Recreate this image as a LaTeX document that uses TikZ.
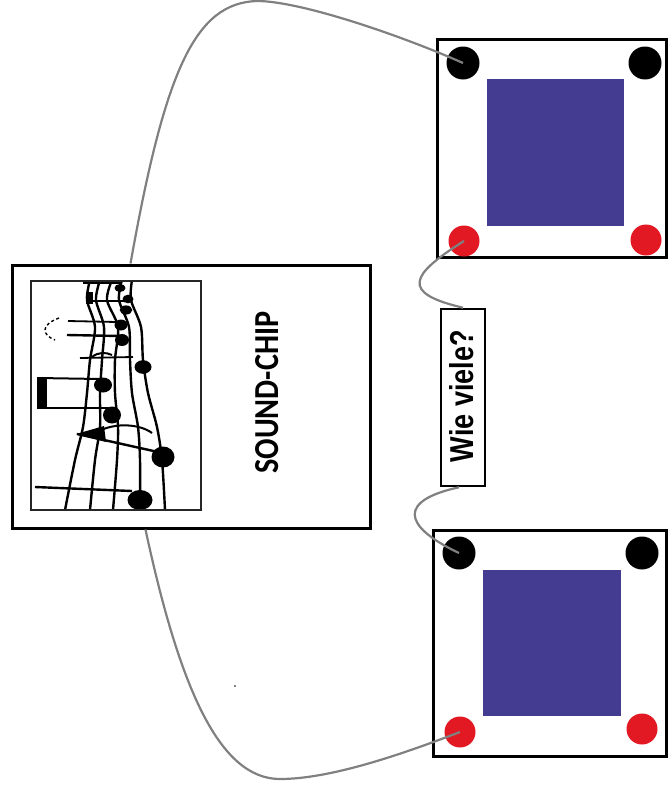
\documentclass[tikz,border=0pt]{standalone}
\usepackage{fontspec}
\usepackage{graphicx}
\newfontfamily\carlitofont{Carlito}
\newfontfamily\libsansfont{Liberation Sans}
\definecolor{chipblue}{RGB}{67,60,145}
\definecolor{pinred}{RGB}{226,24,34}
\definecolor{wiregray}{RGB}{128,128,128}
\tikzset{
  box/.style={draw=black, line width=3pt, fill=white, inner sep=0pt},
  die/.style={fill=chipblue, draw=none, inner sep=0pt},
  blackpin/.style={circle, fill=black, draw=none, inner sep=0pt, minimum size=33pt},
  redpin/.style={circle, fill=pinred, draw=none, inner sep=0pt, minimum size=31pt},
  wire/.style={draw=wiregray, line width=2.2pt},
  staff/.style={line width=2.4pt, line cap=round},
  stemline/.style={line width=1.8pt},
}
\begin{document}
\begin{tikzpicture}[x=1pt,y=-1pt]
\useasboundingbox (0,0) rectangle (667,798);
% sound chip
\node[box, minimum width=358pt, minimum height=263pt] (chip) at (191,396.5) {};
\node[draw=black!85, line width=2.6pt, inner sep=0pt, minimum width=170pt, minimum height=229pt] (pic) at (116,395.5) {};
\node[rotate=90, inner sep=0pt] (chiplabel) at (267,392.5) {\resizebox{162pt}{23pt}{\carlitofont\bfseries SOUND-CHIP}};
% music drawing
\begin{scope}
\clip (32.5,282.5) rectangle (199.5,508.5);
\draw[staff] plot[smooth] coordinates {(90,280) (87,300) (95,327) (90,360) (87,393) (83,427) (75,460) (65,510)};
\draw[staff] plot[smooth] coordinates {(100,280) (96,300) (104,327) (102,360) (100,393) (100,427) (95,460) (90,510)};
\draw[staff] plot[smooth] coordinates {(112,280) (107,300) (118,327) (115,360) (115,393) (118,427) (117,460) (113,510)};
\draw[staff] plot[smooth] coordinates {(122,280) (119,300) (129,327) (130,360) (132,393) (138,427) (140,460) (140,510)};
\draw[staff] plot[smooth] coordinates {(132,280) (131,300) (141,327) (143,360) (148,393) (157,427) (162,460) (165,510)};
% note heads
\fill (120,288) ellipse [x radius=5.5, y radius=4];
\fill (128,299) ellipse [x radius=5.5, y radius=4.3];
\fill (126,310) ellipse [x radius=6.3, y radius=4.6];
\fill (121,325) ellipse [x radius=6.5, y radius=5.5];
\fill (122,340) ellipse [x radius=7, y radius=6];
\fill (143,367) ellipse [x radius=8.5, y radius=6.8];
\fill (103,385) ellipse [x radius=9, y radius=7.5];
\fill (112,415) ellipse [x radius=9, y radius=8.5];
\fill (163,457) ellipse [x radius=11.5, y radius=10.5];
\fill (140,500) ellipse [x radius=12.5, y radius=10];
% stems, beams, flags
\draw[stemline] (83,283) -- (120,283);
\fill (86,292) rectangle (93,304);
\draw[stemline] (90,301) -- (127,301);
\draw[stemline] (68,321) -- (117,322);
\draw[line width=2.4pt] (67,335) -- (120,336);
\draw[stemline] (80,358) -- (133,357);
\draw[line width=2pt] (92,357) .. controls (98,352) and (106,352) .. (112,355);
\draw[line width=2pt] (38,378) -- (100,379);
\fill (37,376.5) rectangle (47,409);
\draw[line width=2pt] (46,408) -- (108,408);
\draw[line width=2.4pt] (77,434) -- (158,452);
\fill (76,434) -- (104,426) -- (106,442) -- cycle;
\draw[line width=2pt] (97,432) .. controls (115,422) and (140,424) .. (152,433);
\draw[line width=2.4pt] (35,487) -- (132,491);
\draw[line width=1.4pt, dash pattern=on 3pt off 2.5pt] (59,318) .. controls (40,325) and (42,335) .. (55,340);
\end{scope}
% top chip package
\node[box, minimum width=229pt, minimum height=218pt] (top) at (551.5,148) {};
\node[die, minimum width=137pt, minimum height=147pt] (topdie) at (555.5,152.5) {};
\node[blackpin] (tb1) at (463,63) {};
\node[blackpin] (tb2) at (645,63) {};
\node[redpin] (tr1) at (464,241) {};
\node[redpin] (tr2) at (646,240) {};
% bottom chip package
\node[box, minimum width=233pt, minimum height=226pt] (bot) at (549.5,643) {};
\node[die, minimum width=138pt, minimum height=146pt] (botdie) at (552,643) {};
\node[blackpin] (bb1) at (459,553) {};
\node[blackpin] (bb2) at (642,553) {};
\node[redpin] (br1) at (460,732) {};
\node[redpin] (br2) at (642,729) {};
% question box
\node[draw=black, line width=2.6pt, fill=white, inner sep=0pt, minimum width=44pt, minimum height=177pt] (wie) at (463,397.5) {};
\node[rotate=90, inner sep=0pt] (wielabel) at (462,396) {\resizebox{132pt}{24pt}{\libsansfont\bfseries Wie viele?}};
% wires
\coordinate (peak1) at (257,1);
\coordinate (dip1) at (280,779);
\draw[wire] ([xshift=120pt]chip.north west) .. controls (165,70) and (195,3) .. (peak1) .. controls (300,1) and (400,35) .. (tb1.center);
\draw[wire] ([xshift=135pt]chip.south west) .. controls (180,690) and (220,779) .. (dip1) .. controls (330,779) and (400,755) .. (br1.center);
\draw[wire] (tr1.center) .. controls (410,275) and (400,293) .. (wie.north);
\draw[wire] ([xshift=-4pt]wie.south) .. controls (400,500) and (400,525) .. (bb1.center);
% stray dot
\fill (235,686) circle (0.8);
\end{tikzpicture}
\end{document}
